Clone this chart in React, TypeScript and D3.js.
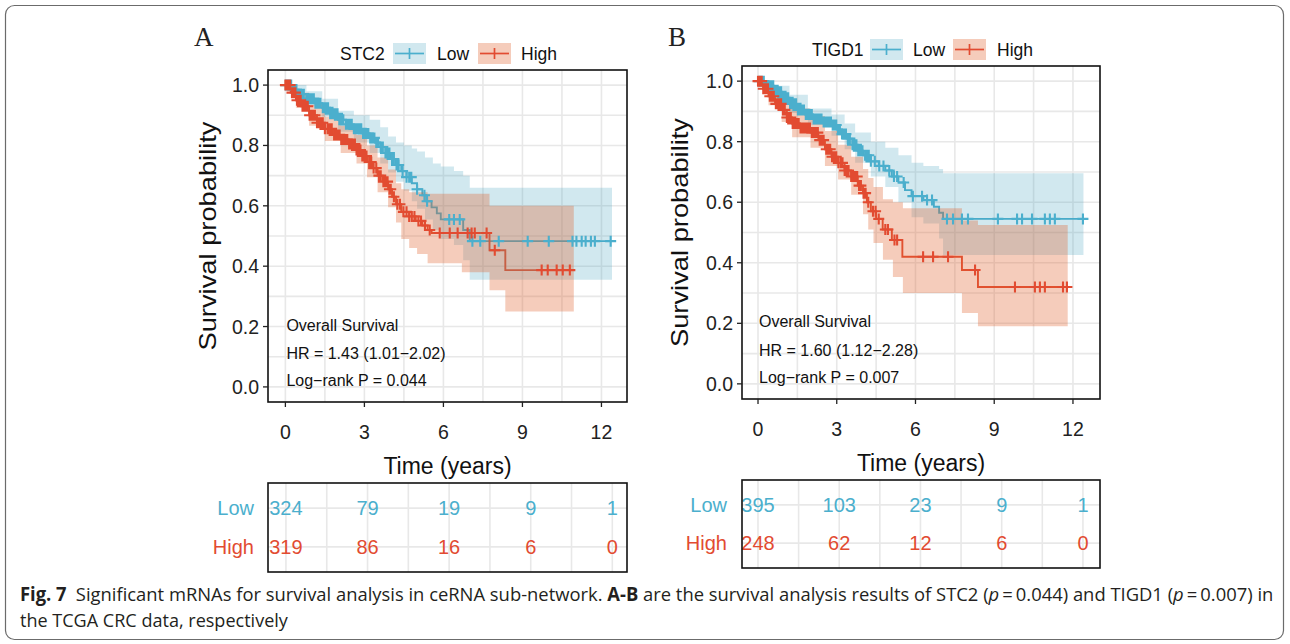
import React, { useLayoutEffect, useRef, useState } from "react";
import * as d3 from "d3";

type Step = [number, number];
type Band = [number, number, number];

// ---- shared axis values ----
const timeTicks = [0, 3, 6, 9, 12];
const survTicks = [0, 0.2, 0.4, 0.6, 0.8, 1.0];
const gridTimes = [0, 1.5, 3, 4.5, 6, 7.5, 9, 10.5, 12];
const gridSurv = [0, 0.1, 0.2, 0.3, 0.4, 0.5, 0.6, 0.7, 0.8, 0.9, 1.0];
const groups = ["Low", "High"];

// ---- STC2 ----
const stc2LowSteps: Step[] = [
  [0, 1], [0.25, 0.985], [0.5, 0.97], [0.8, 0.955], [1.1, 0.94], [1.4, 0.925], [1.7, 0.905],
  [2.0, 0.885], [2.3, 0.87], [2.6, 0.855], [2.9, 0.84], [3.2, 0.825], [3.4, 0.81], [3.6, 0.795],
  [3.8, 0.775], [4.0, 0.755], [4.2, 0.735], [4.4, 0.715], [4.6, 0.695], [4.8, 0.675], [5.0, 0.655],
  [5.2, 0.635], [5.35, 0.615], [5.55, 0.595], [5.75, 0.575], [5.9, 0.555], [6.75, 0.52], [7.0, 0.483],
  [12.4, 0.483],
];
const stc2HighSteps: Step[] = [
  [0, 1], [0.2, 0.975], [0.4, 0.95], [0.6, 0.93], [0.9, 0.9], [1.2, 0.875], [1.5, 0.855], [1.8, 0.835],
  [2.1, 0.82], [2.4, 0.805], [2.7, 0.785], [2.9, 0.765], [3.1, 0.745], [3.3, 0.725], [3.5, 0.7],
  [3.7, 0.68], [3.9, 0.655], [4.05, 0.63], [4.2, 0.605], [4.4, 0.58], [4.7, 0.565], [4.95, 0.55],
  [5.2, 0.535], [5.4, 0.52], [5.55, 0.51], [7.75, 0.453], [8.35, 0.387], [10.95, 0.387],
];
const stc2LowBand: Band[] = [
  [0, 1, 1], [0.3, 0.97, 1.0], [0.8, 0.93, 0.98], [1.4, 0.895, 0.955], [2.0, 0.845, 0.915],
  [2.6, 0.81, 0.9], [3.2, 0.775, 0.885], [3.6, 0.74, 0.86], [3.9, 0.71, 0.83], [4.2, 0.68, 0.81],
  [4.5, 0.65, 0.8], [4.8, 0.615, 0.79], [5.0, 0.59, 0.78], [5.3, 0.555, 0.76], [5.6, 0.52, 0.74],
  [5.9, 0.49, 0.73], [6.4, 0.47, 0.715], [6.75, 0.42, 0.7], [7.0, 0.355, 0.66], [12.4, 0.355, 0.66],
];
const stc2HighBand: Band[] = [
  [0, 1, 1], [0.4, 0.925, 0.975], [0.9, 0.865, 0.935], [1.5, 0.815, 0.895], [2.1, 0.775, 0.865],
  [2.7, 0.74, 0.835], [3.1, 0.695, 0.8], [3.5, 0.645, 0.76], [3.9, 0.595, 0.72], [4.2, 0.545, 0.675],
  [4.4, 0.49, 0.655], [4.7, 0.46, 0.645], [5.0, 0.44, 0.645], [5.4, 0.41, 0.64], [6.7, 0.38, 0.64],
  [7.75, 0.32, 0.6], [8.35, 0.25, 0.6], [10.95, 0.25, 0.6],
];
const stc2LowCensor = [
  0.02, 0.07, 0.1, 0.16, 0.22, 0.28, 0.35, 0.42, 0.5, 0.56, 0.62, 0.7, 0.8, 0.87, 0.95, 1.02, 1.08,
  1.14, 1.2, 1.27, 1.33, 1.42, 1.5, 1.56, 1.62, 1.7, 1.78, 1.84, 1.9, 1.98, 2.05, 2.12, 2.2, 2.3, 2.38,
  2.45, 2.52, 2.6, 2.68, 2.75, 2.82, 2.88, 2.95, 3.02, 3.08, 3.15, 3.22, 3.3, 3.38, 3.45, 3.52, 3.62,
  3.7, 3.8, 3.88, 3.95, 4.05, 4.12, 4.22, 4.3, 4.45, 4.6, 4.7, 4.78, 5.0, 5.28, 5.38, 6.22, 6.4, 6.62,
  7.1, 7.4, 8.1, 9.2, 10.0, 10.9, 11.05, 11.25, 11.4, 11.6, 11.75, 12.35,
];
const stc2HighCensor = [
  0.0, 0.03, 0.05, 0.09, 0.12, 0.18, 0.25, 0.31, 0.38, 0.44, 0.5, 0.58, 0.65, 0.72, 0.78, 0.85, 0.92,
  0.98, 1.05, 1.12, 1.2, 1.28, 1.35, 1.42, 1.5, 1.6, 1.68, 1.76, 1.85, 1.92, 2.0, 2.06, 2.12, 2.2,
  2.28, 2.35, 2.42, 2.5, 2.58, 2.64, 2.7, 2.78, 2.85, 2.92, 3.0, 3.08, 3.18, 3.26, 3.35, 3.45, 3.55,
  3.62, 3.72, 3.8, 3.88, 3.95, 4.0, 4.12, 4.25, 4.35, 4.48, 4.6, 4.7, 4.8, 4.9, 5.05, 5.15, 5.3, 5.48,
  5.86, 6.24, 6.54, 6.92, 7.07, 7.19, 7.64, 7.95, 9.73, 9.96, 10.3, 10.53, 10.8,
];
const stc2LowRisk = [324, 79, 19, 9, 1];
const stc2HighRisk = [319, 86, 16, 6, 0];
const stc2Notes = ["Overall Survival", "HR = 1.43 (1.01\u22122.02)", "Log\u2212rank P = 0.044"];

// ---- TIGD1 ----
const tigd1LowSteps: Step[] = [
  [0, 1], [0.3, 0.985], [0.6, 0.965], [0.9, 0.945], [1.2, 0.925], [1.5, 0.905], [1.8, 0.89],
  [2.1, 0.875], [2.5, 0.865], [2.8, 0.855], [3.0, 0.84], [3.2, 0.825], [3.4, 0.81], [3.6, 0.79],
  [3.8, 0.77], [4.0, 0.755], [4.3, 0.735], [4.6, 0.72], [4.85, 0.705], [5.1, 0.685], [5.35, 0.665],
  [5.6, 0.64], [5.85, 0.62], [6.3, 0.607], [6.7, 0.585], [6.9, 0.565], [7.05, 0.545], [12.4, 0.545],
];
const tigd1HighSteps: Step[] = [
  [0, 1], [0.2, 0.975], [0.4, 0.95], [0.65, 0.925], [0.9, 0.905], [1.1, 0.88], [1.3, 0.86],
  [1.6, 0.845], [2.0, 0.83], [2.3, 0.805], [2.55, 0.775], [2.8, 0.75], [3.05, 0.73], [3.3, 0.705],
  [3.55, 0.685], [3.8, 0.655], [4.0, 0.63], [4.15, 0.6], [4.3, 0.57], [4.5, 0.545], [4.75, 0.51],
  [5.1, 0.475], [5.5, 0.42], [7.77, 0.376], [8.38, 0.32], [11.8, 0.32],
];
const tigd1LowBand: Band[] = [
  [0, 1, 1], [0.6, 0.945, 0.985], [1.2, 0.895, 0.955], [1.9, 0.855, 0.91], [2.8, 0.82, 0.89],
  [3.3, 0.775, 0.86], [3.7, 0.73, 0.83], [4.3, 0.685, 0.8], [4.85, 0.65, 0.78], [5.35, 0.6, 0.755],
  [5.85, 0.55, 0.73], [6.3, 0.53, 0.72], [6.9, 0.48, 0.71], [7.05, 0.426, 0.696], [12.4, 0.426, 0.696],
];
const tigd1HighBand: Band[] = [
  [0, 1, 1], [0.4, 0.92, 0.98], [0.9, 0.865, 0.945], [1.3, 0.815, 0.91], [2.0, 0.78, 0.885],
  [2.55, 0.72, 0.835], [3.05, 0.675, 0.79], [3.55, 0.625, 0.75], [4.0, 0.56, 0.71], [4.2, 0.51, 0.68],
  [4.4, 0.465, 0.65], [4.76, 0.41, 0.61], [5.14, 0.353, 0.6], [5.52, 0.3, 0.58], [7.77, 0.234, 0.54],
  [8.38, 0.19, 0.525], [11.8, 0.19, 0.525],
];
const tigd1LowCensor = [
  0.05, 0.1, 0.15, 0.22, 0.3, 0.36, 0.42, 0.5, 0.58, 0.65, 0.72, 0.8, 0.88, 0.94, 1.0, 1.08, 1.15,
  1.22, 1.3, 1.38, 1.45, 1.52, 1.6, 1.68, 1.75, 1.82, 1.9, 1.98, 2.05, 2.12, 2.2, 2.28, 2.35, 2.42,
  2.5, 2.56, 2.62, 2.7, 2.78, 2.85, 2.92, 2.98, 3.05, 3.12, 3.2, 3.28, 3.35, 3.42, 3.5, 3.6, 3.68,
  3.75, 3.82, 3.9, 3.98, 4.08, 4.15, 4.22, 4.3, 4.45, 4.62, 4.78, 5.0, 5.18, 5.3, 5.55, 5.9, 6.25,
  6.44, 6.63, 7.2, 7.43, 7.77, 8.0, 9.14, 9.87, 10.06, 10.44, 10.93, 11.12, 11.31, 12.38,
];
const tigd1HighCensor = [
  0.0, 0.04, 0.08, 0.14, 0.2, 0.26, 0.32, 0.38, 0.45, 0.52, 0.6, 0.68, 0.75, 0.82, 0.88, 0.95, 1.02,
  1.1, 1.18, 1.25, 1.32, 1.4, 1.48, 1.55, 1.62, 1.7, 1.78, 1.85, 1.92, 1.98, 2.05, 2.12, 2.2, 2.28,
  2.35, 2.42, 2.5, 2.6, 2.68, 2.75, 2.82, 2.9, 2.98, 3.06, 3.15, 3.22, 3.3, 3.38, 3.45, 3.55, 3.62,
  3.7, 3.78, 3.85, 3.92, 4.02, 4.1, 4.2, 4.38, 4.48, 4.6, 4.85, 4.95, 5.2, 5.3, 6.29, 6.67, 7.24,
  8.27, 9.79, 10.55, 10.74, 10.93, 11.62, 11.77,
];
const tigd1LowRisk = [395, 103, 23, 9, 1];
const tigd1HighRisk = [248, 62, 12, 6, 0];
const tigd1Notes = ["Overall Survival", "HR = 1.60 (1.12\u22122.28)", "Log\u2212rank P = 0.007"];

// ---- styling ----
const LOW = "#4BAFCD";
const HIGH = "#E24B31";
const LOW_FILL = "#3E9EBE";
const LOW_ALPHA = 0.24;
const HIGH_FILL = "#E0602A";
const HIGH_ALPHA = 0.32;
const FONT = "'Liberation Sans', Arial, Helvetica, sans-serif";
const GRID = "#E8E8E8";

interface Layout {
  tag: string;
  tagX: number;
  plot: { x0: number; x1: number; y0: number; y1: number };
  xDomain: [number, number];
  risk: { x0: number; x1: number; y0: number; y1: number };
  riskDomain: [number, number];
  legend: { titleX: number; baseline: number; lowKey: number; lowText: number; highKey: number; highText: number; keyW: number };
  yTitleX: number;
  xTitleY: number;
  notesY: number[];
  riskLabelX: number;
}

interface Spec {
  gene: string;
  lowSteps: Step[];
  highSteps: Step[];
  lowBand: Band[];
  highBand: Band[];
  lowCensor: number[];
  highCensor: number[];
  lowRisk: number[];
  highRisk: number[];
  notes: string[];
}

function survAt(steps: Step[], t: number) {
  const i = d3.bisector((d: Step) => d[0]).right(steps, t) - 1;
  return steps[Math.max(0, i)][1];
}

function KMPanel({ spec, lay }: { spec: Spec; lay: Layout }) {
  const { plot, risk } = lay;
  const x = d3.scaleLinear().domain(lay.xDomain).range([plot.x0, plot.x1]);
  const y = d3.scaleLinear().domain([-0.05, 1.05]).range([plot.y1, plot.y0]);
  const xr = d3.scaleLinear().domain(lay.riskDomain).range([risk.x0, risk.x1]);
  const yr = d3.scalePoint<string>().domain(groups).range([risk.y0, risk.y1]).padding(0.65);

  const line = d3.line<Step>().curve(d3.curveStepAfter).x((d) => x(d[0])).y((d) => y(d[1]));
  const area = d3
    .area<Band>()
    .curve(d3.curveStepAfter)
    .x((d) => x(d[0]))
    .y0((d) => y(d[1]))
    .y1((d) => y(d[2]));

  const cross = (cx: number, cy: number) => `M${cx - 5.5},${cy}h11M${cx},${cy - 5.5}v11`;
  const censorPath = (steps: Step[], times: number[]) =>
    times.map((t) => cross(x(t), y(survAt(steps, t)))).join("");

  const fmt = d3.format(".1f");
  const lg = lay.legend;
  const keyH = 21;

  return (
    <g fontFamily={FONT}>
      <text x={lay.tagX} y={46} fontFamily="'Liberation Serif', 'Times New Roman', serif" fontSize={27} fill="#222">
        {lay.tag}
      </text>

      {/* legend */}
      <text x={lg.titleX} y={lg.baseline} fontSize={17.5} fill="#111">{spec.gene}</text>
      {[
        { key: lg.lowKey, text: lg.lowText, label: "Low", c: LOW, f: LOW_FILL, o: LOW_ALPHA },
        { key: lg.highKey, text: lg.highText, label: "High", c: HIGH, f: HIGH_FILL, o: HIGH_ALPHA },
      ].map((k) => (
        <g key={k.label}>
          <rect x={k.key} y={lg.baseline - 17} width={lg.keyW} height={keyH} fill={k.f} fillOpacity={k.o} />
          <line x1={k.key + 2} x2={k.key + lg.keyW - 2} y1={lg.baseline - 6.5} y2={lg.baseline - 6.5} stroke={k.c} strokeWidth={1.7} />
          <line x1={k.key + lg.keyW / 2} x2={k.key + lg.keyW / 2} y1={lg.baseline - 12} y2={lg.baseline - 1} stroke={k.c} strokeWidth={1.7} />
          <text x={k.text} y={lg.baseline} fontSize={17.5} fill="#111">{k.label}</text>
        </g>
      ))}

      {/* panel background grid */}
      <rect x={plot.x0} y={plot.y0} width={plot.x1 - plot.x0} height={plot.y1 - plot.y0} fill="#fff" />
      {gridTimes.map((t) => (
        <line key={"gx" + t} x1={x(t)} x2={x(t)} y1={plot.y0} y2={plot.y1} stroke={GRID} strokeWidth={1.6} />
      ))}
      {gridSurv.map((s) => (
        <line key={"gy" + s} x1={plot.x0} x2={plot.x1} y1={y(s)} y2={y(s)} stroke={GRID} strokeWidth={1.6} />
      ))}

      {/* survival curves, then confidence ribbons, then censor marks */}
      <path d={line(spec.lowSteps) ?? ""} fill="none" stroke={LOW} strokeWidth={1.9} />
      <path d={line(spec.highSteps) ?? ""} fill="none" stroke={HIGH} strokeWidth={1.9} />
      <path d={area(spec.lowBand) ?? ""} fill={LOW_FILL} fillOpacity={LOW_ALPHA} />
      <path d={area(spec.highBand) ?? ""} fill={HIGH_FILL} fillOpacity={HIGH_ALPHA} />
      <path d={censorPath(spec.lowSteps, spec.lowCensor)} stroke={LOW} strokeWidth={2.1} fill="none" />
      <path d={censorPath(spec.highSteps, spec.highCensor)} stroke={HIGH} strokeWidth={2.1} fill="none" />

      {/* annotation */}
      {spec.notes.map((n, i) => (
        <text key={n} x={x(0) + 1} y={lay.notesY[i]} fontSize={16} fill="#111">{n}</text>
      ))}

      <rect x={plot.x0} y={plot.y0} width={plot.x1 - plot.x0} height={plot.y1 - plot.y0} fill="none" stroke="#111" strokeWidth={1.6} />

      {/* y axis */}
      {survTicks.map((s) => (
        <g key={"yt" + s}>
          <line x1={plot.x0 - 5} x2={plot.x0} y1={y(s)} y2={y(s)} stroke="#222" strokeWidth={1.3} />
          <text x={plot.x0 - 9} y={y(s)} dy="0.36em" textAnchor="end" fontSize={19.5} fill="#222">{fmt(s)}</text>
        </g>
      ))}
      {/* x axis */}
      {timeTicks.map((t) => (
        <g key={"xt" + t}>
          <line x1={x(t)} x2={x(t)} y1={plot.y1} y2={plot.y1 + 5} stroke="#222" strokeWidth={1.3} />
          <text x={x(t)} y={plot.y1 + 37} textAnchor="middle" fontSize={19.5} fill="#222">{t}</text>
        </g>
      ))}
      <text
        transform={`translate(${lay.yTitleX},${(plot.y0 + plot.y1) / 2}) rotate(-90)`}
        textAnchor="middle"
        fontSize={24}
        textLength={229}
        lengthAdjust="spacingAndGlyphs"
        fill="#111"
      >
        Survival probability
      </text>
      <text x={(plot.x0 + plot.x1) / 2} y={lay.xTitleY} textAnchor="middle" fontSize={23} fill="#111">
        Time (years)
      </text>

      {/* number at risk */}
      <rect x={risk.x0} y={risk.y0} width={risk.x1 - risk.x0} height={risk.y1 - risk.y0} fill="#fff" />
      {gridTimes.map((t) => (
        <line key={"rx" + t} x1={xr(t)} x2={xr(t)} y1={risk.y0} y2={risk.y1} stroke={GRID} strokeWidth={1.6} />
      ))}
      {groups.map((g) => (
        <line key={"ry" + g} x1={risk.x0} x2={risk.x1} y1={yr(g)} y2={yr(g)} stroke={GRID} strokeWidth={1.6} />
      ))}
      {[
        { g: "Low", vals: spec.lowRisk, c: LOW },
        { g: "High", vals: spec.highRisk, c: HIGH },
      ].map((row) => (
        <g key={"row" + row.g}>
          <text x={lay.riskLabelX} y={yr(row.g)} dy="0.36em" textAnchor="end" fontSize={20} fill={row.c}>{row.g}</text>
          {row.vals.map((v, i) => (
            <text key={i} x={xr(timeTicks[i])} y={yr(row.g)} dy="0.36em" textAnchor="middle" fontSize={20} fill={row.c}>
              {v}
            </text>
          ))}
        </g>
      ))}
      <rect x={risk.x0} y={risk.y0} width={risk.x1 - risk.x0} height={risk.y1 - risk.y0} fill="none" stroke="#111" strokeWidth={1.6} />
    </g>
  );
}

const panelA: Layout = {
  tag: "A",
  tagX: 194,
  plot: { x0: 268, x1: 627, y0: 70, y1: 402 },
  xDomain: [-0.66, 12.97],
  risk: { x0: 268, x1: 627, y0: 483, y1: 572 },
  riskDomain: [-0.66, 12.54],
  legend: { titleX: 340, baseline: 60, lowKey: 393, lowText: 437, highKey: 478, highText: 521, keyW: 33 },
  yTitleX: 216,
  xTitleY: 474,
  notesY: [331, 359, 386],
  riskLabelX: 254,
};

const panelB: Layout = {
  tag: "B",
  tagX: 668,
  plot: { x0: 742, x1: 1100, y0: 66, y1: 399 },
  xDomain: [-0.61, 13.03],
  risk: { x0: 742, x1: 1100, y0: 480, y1: 568 },
  riskDomain: [-0.59, 12.63],
  legend: { titleX: 812, baseline: 56, lowKey: 870, lowText: 913, highKey: 953, highText: 997, keyW: 33 },
  yTitleX: 688,
  xTitleY: 471,
  notesY: [327, 356, 383],
  riskLabelX: 727,
};

const specA: Spec = {
  gene: "STC2",
  lowSteps: stc2LowSteps,
  highSteps: stc2HighSteps,
  lowBand: stc2LowBand,
  highBand: stc2HighBand,
  lowCensor: stc2LowCensor,
  highCensor: stc2HighCensor,
  lowRisk: stc2LowRisk,
  highRisk: stc2HighRisk,
  notes: stc2Notes,
};

const specB: Spec = {
  gene: "TIGD1",
  lowSteps: tigd1LowSteps,
  highSteps: tigd1HighSteps,
  lowBand: tigd1LowBand,
  highBand: tigd1HighBand,
  lowCensor: tigd1LowCensor,
  highCensor: tigd1HighCensor,
  lowRisk: tigd1LowRisk,
  highRisk: tigd1HighRisk,
  notes: tigd1Notes,
};

// Caption lines are set in a regular face, then squeezed horizontally to the
// condensed width of the journal typeface.
const CAPTION_LEFT = 20;
const captionLines = [
  { baseline: 601, width: 1253 },
  { baseline: 627, width: 268 },
];

function Caption() {
  const refs = [useRef<SVGTextElement>(null), useRef<SVGTextElement>(null)];
  const [scales, setScales] = useState<number[]>([0.86, 0.86]);
  useLayoutEffect(() => {
    const next = refs.map((r, i) => {
      const el = r.current;
      if (!el) return 0.86;
      const w = el.getComputedTextLength();
      return w > 0 ? captionLines[i].width / w : 0.86;
    });
    setScales(next);
  }, []);
  const capFont = "'Open Sans', 'Noto Sans', sans-serif";
  return (
    <g fontFamily={capFont} fontSize={19} fill="#231F20">
      <g transform={`translate(${CAPTION_LEFT},${captionLines[0].baseline}) scale(${scales[0]},1)`}>
        <text ref={refs[0]} x={0} y={0}>
          <tspan fontWeight="bold">Fig. 7</tspan>
          <tspan>{"\u2002Significant mRNAs for survival analysis in ceRNA sub-network. "}</tspan>
          <tspan fontWeight="bold">A-B</tspan>
          <tspan>{" are the survival analysis results of STC2 ("}</tspan>
          <tspan fontStyle="italic">p</tspan>
          <tspan>{"\u2009=\u20090.044) and TIGD1 ("}</tspan>
          <tspan fontStyle="italic">p</tspan>
          <tspan>{"\u2009=\u20090.007) in"}</tspan>
        </text>
      </g>
      <g transform={`translate(${CAPTION_LEFT},${captionLines[1].baseline}) scale(${scales[1]},1)`}>
        <text ref={refs[1]} x={0} y={0}>
          the TCGA CRC data, respectively
        </text>
      </g>
    </g>
  );
}

export default function App() {
  return (
    <svg
      width={1290}
      height={644}
      viewBox="0 0 1290 644"
      style={{ position: "absolute", left: 0, top: 0, display: "block", background: "#fff" }}
    >
      <rect x={0} y={0} width={1290} height={644} fill="#fff" />
      <rect x={5.5} y={5.5} width={1278} height={634} rx={9} fill="none" stroke="#6b6b6b" strokeWidth={1.2} />
      <KMPanel spec={specA} lay={panelA} />
      <KMPanel spec={specB} lay={panelB} />
      <Caption />
    </svg>
  );
}
